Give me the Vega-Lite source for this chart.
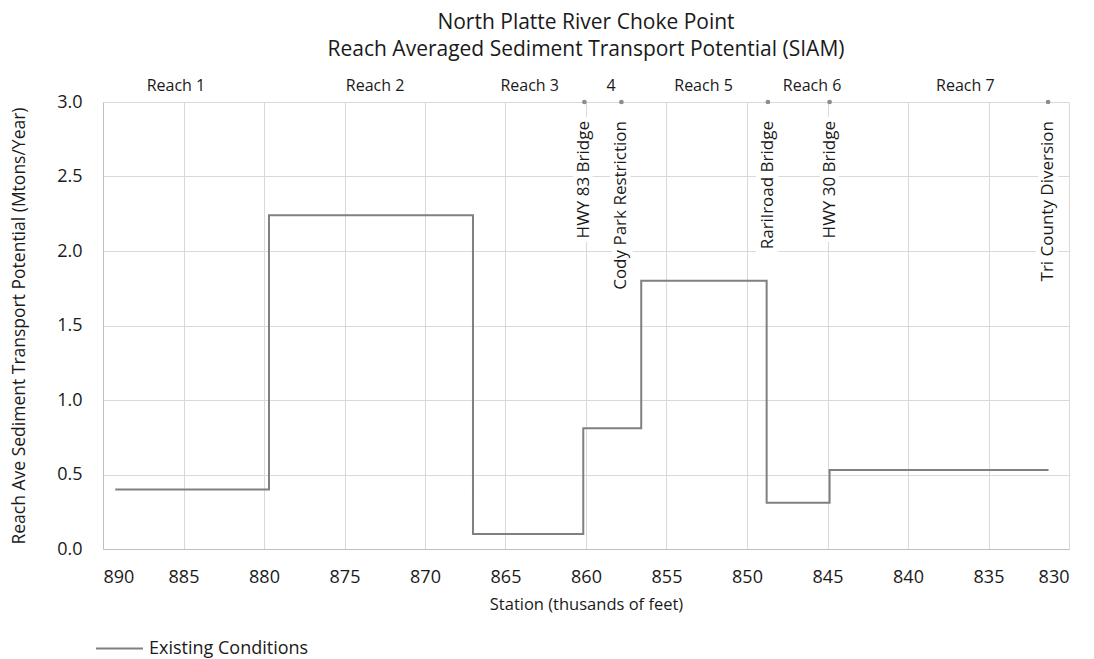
{
  "$schema": "https://vega.github.io/schema/vega-lite/v6.json",
  "width": 966,
  "height": 447,
  "autosize": {"type": "none"},
  "padding": {"left": 103, "top": 102, "right": 25, "bottom": 110},
  "background": "white",
  "config": {
    "font": "Open Sans",
    "view": {"stroke": null},
    "axis": {"labelColor": "#1a1a1a", "titleColor": "#1a1a1a", "gridColor": "#d9d9d9", "domainColor": "#bfbfbf", "ticks": false, "titleFontWeight": "normal"}
  },
  "title": {
    "text": ["North Platte River Choke Point", "Reach Averaged Sediment Transport Potential (SIAM)"],
    "fontSize": 21,
    "fontWeight": "normal",
    "color": "#1a1a1a",
    "anchor": "middle",
    "offset": 18,
    "lineHeight": 27
  },
  "datasets": {
    "profile": [
      {"seq": 1, "station": 889.24, "value": 0.40, "series": "Existing Conditions"},
      {"seq": 2, "station": 879.69, "value": 2.24, "series": "Existing Conditions"},
      {"seq": 3, "station": 867.02, "value": 0.10, "series": "Existing Conditions"},
      {"seq": 4, "station": 860.17, "value": 0.81, "series": "Existing Conditions"},
      {"seq": 5, "station": 856.57, "value": 1.80, "series": "Existing Conditions"},
      {"seq": 6, "station": 848.78, "value": 0.31, "series": "Existing Conditions"},
      {"seq": 7, "station": 844.87, "value": 0.53, "series": "Existing Conditions"},
      {"seq": 8, "station": 831.27, "value": 0.53, "series": "Existing Conditions"}
    ],
    "landmarks": [
      {"name": "HWY 83 Bridge", "station": 860.1},
      {"name": "Cody Park Restriction", "station": 857.8},
      {"name": "Rarilroad Bridge", "station": 848.7},
      {"name": "HWY 30 Bridge", "station": 844.87},
      {"name": "Tri County Diversion", "station": 831.3}
    ],
    "reaches": [
      {"name": "Reach 1", "station": 885.47},
      {"name": "Reach 2", "station": 873.1},
      {"name": "Reach 3", "station": 863.5},
      {"name": "4", "station": 858.45},
      {"name": "Reach 5", "station": 852.7},
      {"name": "Reach 6", "station": 845.96},
      {"name": "Reach 7", "station": 836.44}
    ]
  },
  "encoding": {
    "x": {
      "field": "station",
      "type": "quantitative",
      "scale": {"domain": [830, 890], "reverse": true, "nice": false, "zero": false},
      "axis": {
        "values": [890, 885, 880, 875, 870, 865, 860, 855, 850, 845, 840, 835, 830],
        "grid": true,
        "labelFontSize": 18,
        "labelPadding": 19,
        "title": "Station (thusands of feet)",
        "titleFontSize": 16.5,
        "titlePadding": 10
      }
    }
  },
  "layer": [
    {
      "data": {"name": "landmarks"},
      "mark": {"type": "text", "angle": 270, "align": "right", "baseline": "middle", "fontSize": 17, "dx": -19, "stroke": "white", "strokeWidth": 10, "fill": "white"},
      "encoding": {
        "y": {"datum": 3, "type": "quantitative", "scale": {"domain": [0, 3], "nice": false, "zero": true},
          "axis": {"values": [0, 0.5, 1, 1.5, 2, 2.5, 3], "grid": true, "format": ".1f", "labelFontSize": 18, "labelPadding": 21, "title": "Reach Ave Sediment Transport Potential (Mtons/Year)", "titleFontSize": 17.5, "titlePadding": 28}},
        "text": {"field": "name"}
      }
    },
    {
      "data": {"name": "profile"},
      "mark": {"type": "line", "interpolate": "step-after", "strokeWidth": 2},
      "encoding": {
        "y": {"field": "value", "type": "quantitative"},
        "order": {"field": "seq", "type": "quantitative"},
        "color": {
          "field": "series",
          "type": "nominal",
          "scale": {"range": ["#808080"]},
          "legend": {"orient": "none", "legendX": -8, "legendY": 522, "title": null, "symbolType": "stroke", "symbolStrokeWidth": 2, "symbolSize": 2209, "labelFontSize": 18, "labelColor": "#1a1a1a", "labelOffset": 5}
        }
      }
    },
    {
      "data": {"name": "landmarks"},
      "mark": {"type": "point", "filled": true, "size": 22, "color": "#8c8c8c", "opacity": 1},
      "encoding": {"y": {"datum": 3, "type": "quantitative"}}
    },
    {
      "data": {"name": "landmarks"},
      "mark": {"type": "text", "angle": 270, "align": "right", "baseline": "middle", "fontSize": 17, "dx": -19, "color": "#1a1a1a"},
      "encoding": {"y": {"datum": 3, "type": "quantitative"}, "text": {"field": "name"}}
    },
    {
      "data": {"name": "reaches"},
      "mark": {"type": "text", "align": "center", "baseline": "middle", "fontSize": 16, "dy": -16, "color": "#1a1a1a"},
      "encoding": {"y": {"datum": 3, "type": "quantitative"}, "text": {"field": "name"}}
    }
  ]
}
